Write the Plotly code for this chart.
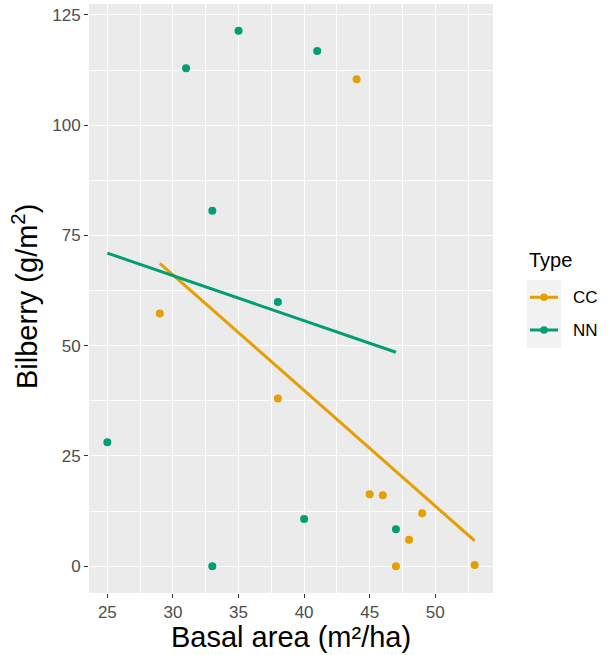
import numpy as np
import plotly.graph_objects as go

# ---- data ----
cc_x = [29, 38, 44, 45, 46, 47, 48, 49, 53]
cc_y = [57.3, 38.0, 110.4, 16.3, 16.1, 0.0, 6.0, 12.0, 0.3]
nn_x = [25, 31, 33, 33, 35, 38, 40, 41, 47]
nn_y = [28.1, 112.9, 80.6, 0.0, 121.4, 59.9, 10.7, 116.8, 8.4]
type_names = ["CC", "NN"]
x_ticks = [25, 30, 35, 40, 45, 50]
y_ticks = [0, 25, 50, 75, 100, 125]

colors = {"CC": "#E69F00", "NN": "#009E73"}
series = {"CC": (cc_x, cc_y), "NN": (nn_x, nn_y)}

W, H = 608, 655
L, R, T, B = 89, 493, 4, 593  # panel box in pixels

def px_x(p):
    return (p - L) / (R - L)

def px_y(p):
    return (B - p) / (B - T)

fig = go.Figure()
for name in type_names:
    xs, ys = series[name]
    fig.add_trace(go.Scatter(x=xs, y=ys, mode="markers", name=name,
                             marker=dict(color=colors[name], size=8),
                             showlegend=False))
for name in type_names:
    xs, ys = series[name]
    k, b0 = np.polyfit(xs, ys, 1)
    lx = np.linspace(min(xs), max(xs), 80)
    fig.add_trace(go.Scatter(x=lx, y=k * lx + b0, mode="lines", name=name,
                             line=dict(color=colors[name], width=3),
                             showlegend=False))

all_x = cc_x + nn_x
all_y = cc_y + nn_y
xspan = max(all_x) - min(all_x)
yspan = max(all_y) - min(all_y)
xr = [min(all_x) - 0.05 * xspan, max(all_x) + 0.05 * xspan]
yr = [min(all_y) - 0.05 * yspan, max(all_y) + 0.05 * yspan]

axis_common = dict(
    showgrid=True, gridcolor="white", gridwidth=1.4, zeroline=False,
    showline=False, ticks="outside", ticklen=4, tickwidth=1.2,
    tickcolor="#333333", tickfont=dict(size=17, color="#4D4D4D",
                                       family="Liberation Sans, Arial"),
)
fig.update_xaxes(range=xr, tickvals=x_ticks, ticktext=[str(v) for v in x_ticks],
                 minor=dict(dtick=2.5, tick0=0, showgrid=True, gridcolor="white",
                            gridwidth=0.7),
                 **axis_common)
fig.update_yaxes(range=yr, tickvals=y_ticks, ticktext=[str(v) for v in y_ticks],
                 minor=dict(dtick=12.5, tick0=0, showgrid=True, gridcolor="white",
                            gridwidth=0.7),
                 **axis_common)

shapes = []
annotations = []
# axis titles
annotations.append(dict(text="Basal area (m²/ha)", xref="paper", yref="paper",
                        x=0.5, y=px_y(637), xanchor="center", yanchor="middle",
                        showarrow=False, borderpad=0,
                        font=dict(size=29, color="black", family="Liberation Sans, Arial")))
annotations.append(dict(text="Bilberry (g/m<sup>2</sup>)", xref="paper", yref="paper",
                        x=px_x(25), y=px_y(297), xanchor="center", yanchor="middle",
                        textangle=-90, showarrow=False, borderpad=0,
                        font=dict(size=29, color="black", family="Liberation Sans, Arial")))
# legend (manual, ggplot-style)
annotations.append(dict(text="Type", xref="paper", yref="paper",
                        x=px_x(527), y=px_y(260), xanchor="left", yanchor="middle",
                        showarrow=False,
                        font=dict(size=20, color="black", family="Liberation Sans, Arial")))
shapes.append(dict(type="rect", xref="paper", yref="paper",
                   x0=px_x(527), x1=px_x(561), y0=px_y(348), y1=px_y(280),
                   fillcolor="#F2F2F2", line=dict(width=0), layer="below"))
key_y = {"CC": 297.3, "NN": 330.0}
r = 3.8
for name in type_names:
    yy = key_y[name]
    shapes.append(dict(type="line", xref="paper", yref="paper",
                       x0=px_x(530), x1=px_x(558), y0=px_y(yy), y1=px_y(yy),
                       line=dict(color=colors[name], width=3)))
    shapes.append(dict(type="circle", xref="paper", yref="paper",
                       x0=px_x(544 - r), x1=px_x(544 + r),
                       y0=px_y(yy + r), y1=px_y(yy - r),
                       fillcolor=colors[name], line=dict(width=0)))
    annotations.append(dict(text=name, xref="paper", yref="paper",
                            x=px_x(571), y=px_y(yy), xanchor="left", yanchor="middle",
                            showarrow=False,
                            font=dict(size=17, color="black",
                                      family="Liberation Sans, Arial")))

fig.update_layout(
    width=W, height=H,
    margin=dict(l=L, r=W - R, t=T, b=H - B, pad=0),
    plot_bgcolor="#EBEBEB", paper_bgcolor="white",
    showlegend=False, shapes=shapes, annotations=annotations,
    font=dict(family="Liberation Sans, Arial"),
)
fig.write_html("out.html",
               config={"displayModeBar": False},
               post_script="document.body.style.margin='0';"
                           "document.body.style.overflow='hidden';")
